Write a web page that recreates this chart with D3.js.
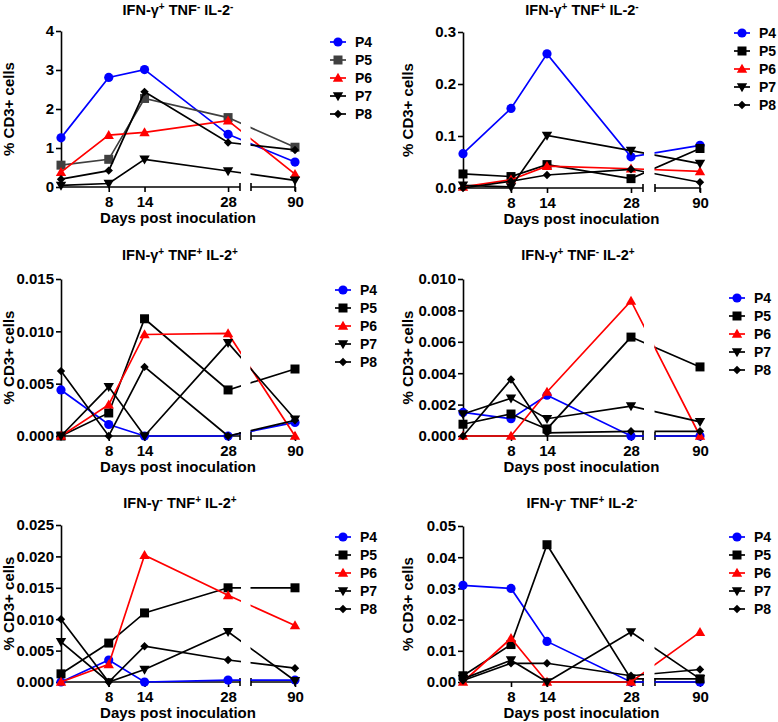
<!DOCTYPE html>
<html><head><meta charset="utf-8">
<script src="https://cdn.jsdelivr.net/npm/d3@7"></script>
<style>
body{margin:0;background:#fff}
svg{display:block}
text{font-family:"Liberation Sans",Arial,sans-serif;font-weight:bold;fill:#000}
</style>
</head><body>
<svg id="c" width="778" height="722"></svg>
<script>
// ---------------- DATA ----------------
const days = [0, 8, 14, 28, 90];
const xTickDays = [8, 14, 28, 90];
const patients = ["P4", "P5", "P6", "P7", "P8"];

// panel titles: base parts and superscript signs
const titleParts = ["IFN-\u03b3", " TNF", " IL-2"];
const titleSigns = [
  ["+", "-", "-"],
  ["+", "+", "-"],
  ["+", "+", "+"],
  ["+", "-", "+"],
  ["-", "+", "+"],
  ["-", "+", "-"]
];

// values per panel: rows = P4..P8, columns = days
const ifnP_tnfN_il2N = [
  [1.26, 2.81, 3.01, 1.35, 0.64],
  [0.56, 0.71, 2.27, 1.78, 1.02],
  [0.38, 1.33, 1.40, 1.70, 0.33],
  [0.04, 0.09, 0.71, 0.41, 0.17],
  [0.20, 0.42, 2.44, 1.14, 0.95]
];
const ifnP_tnfP_il2N = [
  [0.066, 0.153, 0.258, 0.060, 0.082],
  [0.027, 0.022, 0.045, 0.018, 0.076],
  [0.002, 0.016, 0.042, 0.037, 0.032],
  [0.005, 0.002, 0.101, 0.072, 0.047],
  [0.000, 0.013, 0.025, 0.036, 0.011]
];
const ifnP_tnfP_il2P = [
  [0.0044, 0.0011, 0.0000, 0.0000, 0.0013],
  [0.0000, 0.0022, 0.0112, 0.0044, 0.0064],
  [0.0000, 0.0030, 0.0097, 0.0098, 0.0000],
  [0.0000, 0.0047, 0.0000, 0.0089, 0.0016],
  [0.0062, 0.0000, 0.0066, 0.0000, 0.0015]
];
const ifnP_tnfN_il2P = [
  [0.0015, 0.0011, 0.0026, 0.0000, 0.0000],
  [0.00075, 0.0014, 0.00045, 0.0063, 0.0044],
  [0.0000, 0.0000, 0.0028, 0.0086, 0.0000],
  [0.0014, 0.0024, 0.0011, 0.0019, 0.0009],
  [0.0000, 0.0036, 0.0002, 0.0003, 0.0003]
];
const ifnN_tnfP_il2P = [
  [0.0000, 0.0035, 0.0000, 0.0003, 0.0003],
  [0.0013, 0.0062, 0.0110, 0.0150, 0.0150],
  [0.0000, 0.0028, 0.0202, 0.0138, 0.0090],
  [0.0064, 0.0000, 0.0020, 0.0080, 0.0002],
  [0.0100, 0.0000, 0.0057, 0.0035, 0.0022]
];
const ifnN_tnfP_il2N = [
  [0.031, 0.030, 0.013, 0.000, 0.000],
  [0.002, 0.012, 0.044, 0.001, 0.001],
  [0.000, 0.014, 0.000, 0.000, 0.016],
  [0.001, 0.007, 0.000, 0.016, 0.001],
  [0.0005, 0.006, 0.006, 0.002, 0.004]
];
const panelValues = [ifnP_tnfN_il2N, ifnP_tnfP_il2N, ifnP_tnfP_il2P, ifnP_tnfN_il2P, ifnN_tnfP_il2P, ifnN_tnfP_il2N];

const yMax = [4, 0.3, 0.015, 0.010, 0.025, 0.05];
const yTicks = [
  [0, 1, 2, 3, 4],
  [0, 0.1, 0.2, 0.3],
  [0, 0.005, 0.010, 0.015],
  [0, 0.002, 0.004, 0.006, 0.008, 0.010],
  [0, 0.005, 0.010, 0.015, 0.020, 0.025],
  [0, 0.01, 0.02, 0.03, 0.04, 0.05]
];
const yTickLabels = [
  ["0", "1", "2", "3", "4"],
  ["0.0", "0.1", "0.2", "0.3"],
  ["0.000", "0.005", "0.010", "0.015"],
  ["0.000", "0.002", "0.004", "0.006", "0.008", "0.010"],
  ["0.000", "0.005", "0.010", "0.015", "0.020", "0.025"],
  ["0.00", "0.01", "0.02", "0.03", "0.04", "0.05"]
];
const xLabel = "Days post inoculation";
const yLabel = "% CD3+ cells";

// ---------------- LAYOUT / STYLE ----------------
const cols = [
  {x0: 61, x30: 240, x2s: 251, x90: 295},
  {x0: 463, x30: 643, x2s: 655, x90: 700}
];
const panels = [
  {col: 0, top: 31, bottom: 187, titleX: 178, titleY: 10, ylx: 8.5, legX: 338, legY: 42},
  {col: 1, top: 32, bottom: 188, titleX: 582, titleY: 10, ylx: 408, legX: 742, legY: 33},
  {col: 0, top: 279, bottom: 436, titleX: 180, titleY: 255, ylx: 8.5, legX: 343, legY: 290},
  {col: 1, top: 279, bottom: 436, titleX: 578, titleY: 255, ylx: 408, legX: 737, legY: 298},
  {col: 0, top: 525, bottom: 682, titleX: 180, titleY: 503, ylx: 8.5, legX: 343, legY: 537},
  {col: 1, top: 526, bottom: 682, titleX: 582, titleY: 503, ylx: 408, legX: 737, legY: 537}
];
const colorsDefault = ["#0000ff", "#000000", "#ff0000", "#000000", "#000000"];
const colorsFirst = ["#0000ff", "#404040", "#ff0000", "#000000", "#000000"];
const shapes = ["circle", "square", "triangle", "triangleDown", "diamond"];

function markerPath(shape) {
  switch (shape) {
    case "circle": return "M4.6,0A4.6,4.6 0 1,1 -4.6,0A4.6,4.6 0 1,1 4.6,0Z";
    case "square": return "M-4.5,-4.5H4.5V4.5H-4.5Z";
    case "triangle": return "M0,-5.2L5.2,3.8H-5.2Z";
    case "triangleDown": return "M0,5.2L5.2,-3.8H-5.2Z";
    case "diamond": return "M0,-4.2L4.2,0L0,4.2L-4.2,0Z";
  }
}

const svg = d3.select("#c");

panels.forEach((p, pi) => {
  const c = cols[p.col];
  const g = svg.append("g");
  const x = d3.scaleLinear().domain([0, 30, 83, 90]).range([c.x0, c.x30, c.x2s, c.x90]);
  const y = d3.scaleLinear().domain([0, yMax[pi]]).range([p.bottom, p.top]);
  const colors = pi === 0 ? colorsFirst : colorsDefault;

  // clip: two segments
  const clipId = "clip" + pi;
  const cp = svg.append("defs").append("clipPath").attr("id", clipId);
  cp.append("rect").attr("x", c.x0 - 20).attr("y", p.top - 20).attr("width", c.x30 - c.x0 + 20 + 1).attr("height", p.bottom - p.top + 40);
  cp.append("rect").attr("x", c.x2s - 0.5).attr("y", p.top - 20).attr("width", c.x90 - c.x2s + 20).attr("height", p.bottom - p.top + 40);

  // title
  const t = g.append("text").attr("x", p.titleX).attr("y", p.titleY + 5)
    .attr("text-anchor", "middle").style("font-size", "14.5px");
  titleParts.forEach((part, k) => {
    t.append("tspan").text(part).attr("dy", k === 0 ? 0 : 5);
    t.append("tspan").text(titleSigns[pi][k]).style("font-size", "10px").attr("dy", -5);
  });

  // y axis
  const ya = g.append("g").attr("transform", `translate(${c.x0},0)`)
    .call(d3.axisLeft(y).tickValues(yTicks[pi]).tickFormat((d, i) => yTickLabels[pi][i])
      .tickSize(5).tickPadding(2).tickSizeOuter(0));
  ya.select(".domain").attr("stroke-width", 1.6);
  ya.selectAll(".tick line").attr("stroke-width", 1.6);
  ya.selectAll("text").style("font-size", "15px").style("font-family", '"Liberation Sans",Arial,sans-serif').style("font-weight", "bold");

  // x axis
  const xa = g.append("g").attr("transform", `translate(0,${p.bottom})`)
    .call(d3.axisBottom(x).tickValues(xTickDays).tickSize(5).tickPadding(4).tickSizeOuter(0));
  xa.select(".domain").remove();
  xa.selectAll(".tick line").attr("stroke-width", 1.6);
  xa.selectAll("text").style("font-size", "15px").style("font-family", '"Liberation Sans",Arial,sans-serif').style("font-weight", "bold");
  const segs = [[c.x0, c.x30], [c.x2s, c.x90]];
  segs.forEach(s => {
    xa.append("line").attr("x1", s[0]).attr("x2", s[1]).attr("y1", 0).attr("y2", 0)
      .attr("stroke", "#000").attr("stroke-width", 1.6);
  });
  [c.x30, c.x2s, c.x90].forEach(cx => {
    xa.append("line").attr("x1", cx).attr("x2", cx).attr("y1", -4).attr("y2", 4)
      .attr("stroke", "#000").attr("stroke-width", 1.6);
  });

  // axis labels
  g.append("text").attr("x", (c.x0 + c.x90) / 2).attr("y", p.bottom + 36)
    .attr("text-anchor", "middle").style("font-size", "15px").text(xLabel);
  g.append("text").attr("transform", `translate(${p.ylx + 5},${(p.top + p.bottom) / 2}) rotate(-90)`)
    .attr("text-anchor", "middle").style("font-size", "15px").text(yLabel);

  // series
  const line = d3.line().x((d, i) => x(days[i])).y(d => y(d));
  panelValues[pi].forEach((vals, si) => {
    g.append("path").attr("d", line(vals)).attr("fill", "none")
      .attr("stroke", colors[si]).attr("stroke-width", 1.7)
      .attr("clip-path", `url(#${clipId})`);
    g.selectAll(null).data(vals).enter().append("path")
      .attr("d", markerPath(shapes[si]))
      .attr("transform", (d, i) => `translate(${x(days[i])},${y(d)})`)
      .attr("fill", colors[si]);
  });

  // legend
  patients.forEach((name, si) => {
    const ly = p.legY + si * 18;
    g.append("line").attr("x1", p.legX - 8).attr("x2", p.legX + 8).attr("y1", ly).attr("y2", ly)
      .attr("stroke", colors[si]).attr("stroke-width", 1.7);
    g.append("path").attr("d", markerPath(shapes[si])).attr("transform", `translate(${p.legX},${ly})`)
      .attr("fill", colors[si]);
    g.append("text").attr("x", p.legX + 17).attr("y", ly + 5).style("font-size", "14px").text(name);
  });
});
</script>
</body></html>
